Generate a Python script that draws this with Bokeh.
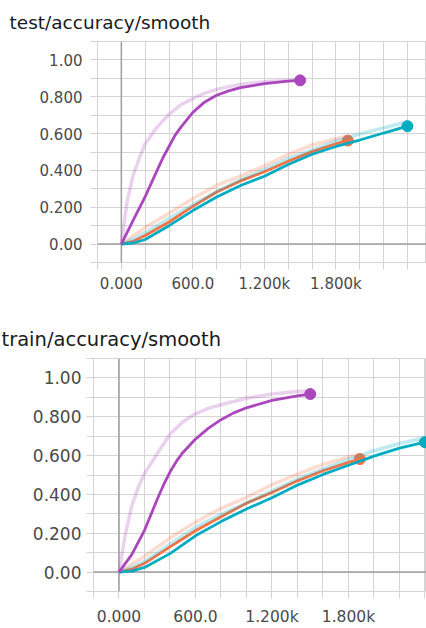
from bokeh.plotting import figure
from bokeh.layouts import column
from bokeh.models import FixedTicker, Span, Range1d
from bokeh.core.properties import value
from bokeh.embed import file_html
from bokeh.resources import INLINE

FONT = "DejaVu Sans"
GRID = "#d4d4d4"
ZERO = "#9e9e9e"
LABEL = "#4a4a4a"

PURPLE = "#ab47bc"
ORANGE = "#ff7043"
CYAN = "#00acc1"

# ---------------- data ----------------
titles = ["test/accuracy/smooth", "train/accuracy/smooth"]
x_major = [0, 600, 1200, 1800]
x_labels = ["0.000", "600.0", "1.200k", "1.800k"]
x_minor = [-200, 0, 200, 400, 600, 800, 1000, 1200, 1400, 1600, 1800, 2000, 2200, 2400, 2600]
y_major = [0.0, 0.2, 0.4, 0.6, 0.8, 1.0]
y_labels = ["0.00", "0.200", "0.400", "0.600", "0.800", "1.00"]
y_minor = [-0.1, 0.0, 0.1, 0.2, 0.3, 0.4, 0.5, 0.6, 0.7, 0.8, 0.9, 1.0, 1.1]

# test/accuracy/smooth
test_purple_steps = [0, 100, 200, 300, 350, 400, 450, 500, 600, 700, 800, 900, 1000, 1200, 1400, 1500]
test_purple_smooth = [0, 0.13, 0.258, 0.40, 0.47, 0.53, 0.59, 0.635, 0.715, 0.772, 0.808, 0.832, 0.849, 0.871, 0.885, 0.889]
test_purple_raw_steps = [0, 50, 100, 150, 200, 300, 400, 500, 600, 700, 800, 900, 1000, 1200, 1400, 1500]
test_purple_raw = [0, 0.236, 0.375, 0.465, 0.545, 0.635, 0.705, 0.757, 0.79, 0.82, 0.84, 0.855, 0.866, 0.882, 0.888, 0.889]

test_orange_steps = [0, 100, 200, 400, 600, 800, 1000, 1200, 1400, 1600, 1800, 1900]
test_orange_smooth = [0, 0.015, 0.047, 0.12, 0.205, 0.283, 0.343, 0.393, 0.45, 0.502, 0.545, 0.562]
test_orange_raw = [0, 0.045, 0.09, 0.168, 0.247, 0.32, 0.37, 0.425, 0.487, 0.538, 0.572, 0.586]

test_cyan_steps = [0, 100, 200, 400, 600, 800, 1000, 1200, 1400, 1600, 1800, 2000, 2200, 2400]
test_cyan_smooth = [0, 0.006, 0.025, 0.1, 0.182, 0.256, 0.318, 0.368, 0.432, 0.488, 0.53, 0.565, 0.603, 0.64]
test_cyan_raw = [0, 0.028, 0.062, 0.14, 0.215, 0.285, 0.35, 0.405, 0.465, 0.512, 0.56, 0.598, 0.631, 0.664]

# train/accuracy/smooth
train_purple_steps = [0, 100, 200, 300, 350, 400, 450, 500, 600, 700, 800, 900, 1000, 1200, 1400, 1500]
train_purple_smooth = [0, 0.09, 0.215, 0.375, 0.45, 0.515, 0.57, 0.615, 0.685, 0.74, 0.785, 0.82, 0.846, 0.884, 0.907, 0.917]
train_purple_raw_steps = [0, 50, 100, 150, 200, 300, 400, 500, 600, 700, 800, 1000, 1200, 1400, 1500]
train_purple_raw = [0, 0.195, 0.34, 0.435, 0.508, 0.61, 0.71, 0.773, 0.815, 0.843, 0.862, 0.895, 0.917, 0.93, 0.932]

train_orange_steps = [0, 100, 200, 400, 600, 800, 1000, 1200, 1400, 1600, 1800, 1890]
train_orange_smooth = [0, 0.015, 0.045, 0.13, 0.213, 0.285, 0.355, 0.41, 0.47, 0.522, 0.565, 0.582]
train_orange_raw = [0, 0.04, 0.082, 0.175, 0.258, 0.328, 0.385, 0.45, 0.505, 0.555, 0.594, 0.607]

train_cyan_steps = [0, 100, 200, 400, 600, 800, 1000, 1200, 1400, 1600, 1800, 2000, 2200, 2400]
train_cyan_smooth = [0, 0.005, 0.024, 0.095, 0.187, 0.26, 0.325, 0.383, 0.448, 0.503, 0.55, 0.597, 0.638, 0.669]
train_cyan_raw = [0, 0.025, 0.055, 0.145, 0.23, 0.297, 0.355, 0.418, 0.48, 0.532, 0.58, 0.625, 0.662, 0.692]


def make_title(text, height, x, baseline_from_top, size):
    """A thin strip that carries the chart title as SVG text."""
    t = figure(width=426, height=height, x_range=Range1d(0, 426), y_range=Range1d(0, height),
               output_backend="svg", toolbar_location=None,
               x_axis_type=None, y_axis_type=None, frame_align=False,
               min_border_left=0, min_border_right=0, min_border_top=0, min_border_bottom=0)
    t.grid.visible = False
    t.outline_line_color = None
    t.background_fill_color = "white"
    t.border_fill_color = "white"
    t.text(x=[x], y=[height - baseline_from_top], text=[text],
           text_font=value(FONT), text_font_size=value(size),
           text_color="#1a1a1a", text_align="left", text_baseline="alphabetic")
    return t


def make_chart(runs, x_end, height, border_left, border_top, border_bottom,
               x_tick_size, y_tick_size, y_standoff, x_standoff):
    p = figure(width=426, height=height,
               x_range=Range1d(-200, x_end), y_range=Range1d(-0.1, 1.1),
               output_backend="svg", toolbar_location=None, frame_align=False,
               min_border_left=border_left, min_border_right=0,
               min_border_top=border_top, min_border_bottom=border_bottom)
    p.outline_line_color = GRID
    p.background_fill_color = "white"
    p.border_fill_color = "white"

    p.xaxis.ticker = FixedTicker(ticks=x_major, minor_ticks=x_minor)
    p.yaxis.ticker = FixedTicker(ticks=y_major, minor_ticks=y_minor)
    p.xaxis.major_label_overrides = dict(zip(x_major, x_labels))
    p.yaxis.major_label_overrides = dict(zip(y_major, y_labels))
    for ax in (p.xaxis, p.yaxis):
        ax.axis_line_color = None
        ax.major_tick_line_color = GRID
        ax.minor_tick_line_color = GRID
        ax.major_tick_out = 7
        ax.major_tick_in = 0
        ax.minor_tick_out = 7
        ax.minor_tick_in = 0
        ax.major_label_text_font = FONT
        ax.major_label_text_color = LABEL
    p.xaxis.major_label_text_font_size = x_tick_size
    p.yaxis.major_label_text_font_size = y_tick_size
    p.yaxis.major_label_standoff = y_standoff
    p.xaxis.major_label_standoff = x_standoff

    for g in (p.xgrid, p.ygrid):
        g.grid_line_color = GRID
        g.minor_grid_line_color = GRID
        g.grid_line_width = 1

    p.add_layout(Span(location=0, dimension="height", line_color=ZERO, line_width=1.5, level="underlay"))
    p.add_layout(Span(location=0, dimension="width", line_color=ZERO, line_width=1.5, level="underlay"))

    for color, raw_x, raw_y, sm_x, sm_y in runs:
        p.line(raw_x, raw_y, line_color=color, line_alpha=0.25, line_width=3.5)
        p.line(sm_x, sm_y, line_color=color, line_width=2.8)
        p.scatter([sm_x[-1]], [sm_y[-1]], size=11, fill_color=color, line_color=color)
    return p


test_runs = [
    (ORANGE, test_orange_steps, test_orange_raw, test_orange_steps, test_orange_smooth),
    (CYAN, test_cyan_steps, test_cyan_raw, test_cyan_steps, test_cyan_smooth),
    (PURPLE, test_purple_raw_steps, test_purple_raw, test_purple_steps, test_purple_smooth),
]
train_runs = [
    (ORANGE, train_orange_steps, train_orange_raw, train_orange_steps, train_orange_smooth),
    (CYAN, train_cyan_steps, train_cyan_raw, train_cyan_steps, train_cyan_smooth),
    (PURPLE, train_purple_raw_steps, train_purple_raw, train_purple_steps, train_purple_smooth),
]

t1 = make_title(titles[0], 38, 9, 22, "18.5px")
p1 = make_chart(test_runs, 2560, 262, 97, 3, 38, "15px", "15px", 8, 5)
t2 = make_title(titles[1], 52, 1, 39, "19.5px")
p2 = make_chart(train_runs, 2412, 276, 93, 6, 35, "15.5px", "17px", 5, 9)

layout = column(t1, p1, t2, p2, spacing=0)
open("out.html", "w").write(file_html(layout, INLINE))
